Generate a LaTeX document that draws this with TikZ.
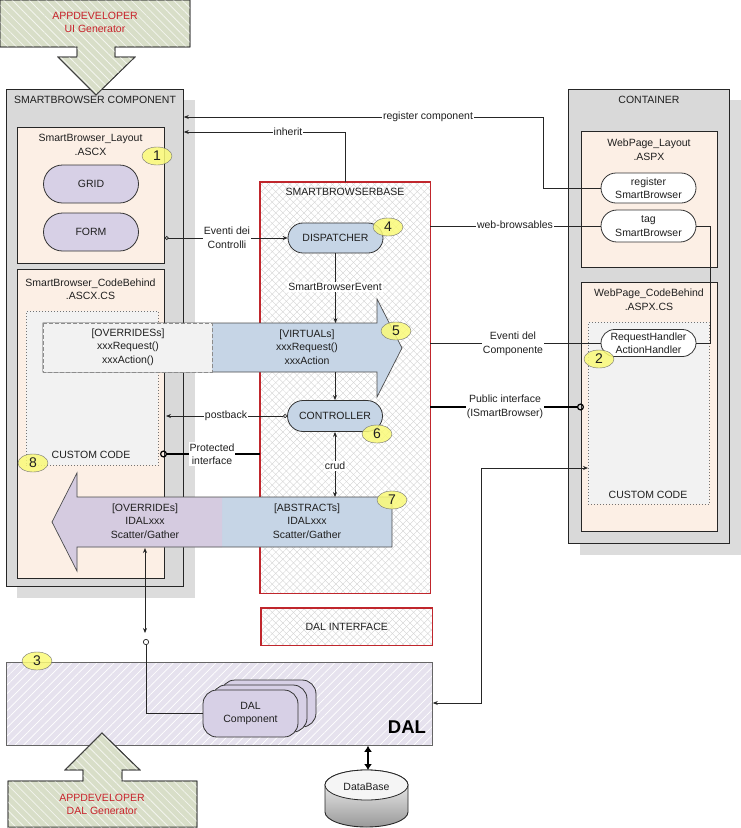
\documentclass[tikz,border=0pt]{standalone}
\usepackage{fontspec}
\setmainfont{Liberation Sans}
\usetikzlibrary{shapes.misc,shapes.geometric,arrows.meta,patterns.meta}
\definecolor{genfill}{HTML}{D8DEC8}
\definecolor{compgray}{HTML}{D9D9D9}
\definecolor{shadowc}{HTML}{DCDCDC}
\definecolor{peach}{HTML}{FCEFE5}
\definecolor{lav}{HTML}{D7D0E6}
\definecolor{lavtwo}{HTML}{D5CBE0}
\definecolor{bluef}{HTML}{C6D5E6}
\definecolor{cgray}{HTML}{F2F2F2}
\definecolor{badgey}{HTML}{FAFA78}
\definecolor{sbred}{HTML}{C0262C}
\definecolor{dalfill}{HTML}{E6E2EE}
\definecolor{txtc}{HTML}{1F1F1F}
\definecolor{gentext}{HTML}{C8232B}
\begin{document}
\begin{tikzpicture}[x=1pt,y=-1pt,
  every node/.style={font=\fontsize{10.5}{13.5}\selectfont, text=txtc},
  box/.style={draw=black!85, line width=0.8pt, inner sep=0, anchor=north west},
  pill/.style={rounded rectangle, draw=black!80, line width=0.8pt, minimum width=95, inner sep=0, align=center},
  lbl/.style={fill=white, inner sep=1pt, align=center},
  ttl/.style={align=center, inner sep=0},
  badge/.style={ellipse, draw=black!55, fill=badgey, fill opacity=0.85, text opacity=1, minimum width=30, minimum height=18, inner sep=0, font=\fontsize{14}{14}\selectfont},
  conn/.style={draw=black!85, line width=0.7pt},
  thickconn/.style={draw=black, line width=1.6pt},
  arr/.style={-{Stealth[length=5pt,width=4pt]}},
  dalc/.style={rectangle, rounded corners=14pt, draw=black!80, fill=lav, line width=0.8pt, minimum width=95, minimum height=47, inner sep=0, align=center},
  gentxt/.style={align=center, inner sep=0, text=gentext}
]
\useasboundingbox (0,0) rectangle (741,828);

% shadows
\fill[shadowc] (17,100) rectangle (195,598);
\fill[shadowc] (580,100) rectangle (741,555);

% ===== SMARTBROWSER COMPONENT =====
\node[box, fill=compgray, minimum width=177, minimum height=497] (comp) at (6,89) {};
\node[ttl] (compT) at (95,100) {SMARTBROWSER COMPONENT};
\node[box, fill=peach, minimum width=147, minimum height=136] (lay) at (17,127) {};
\node[ttl] (layT) at (90.5,145) {SmartBrowser\_Layout\\.ASCX};
\node[pill, fill=lav, minimum height=38] (grid) at (91,184) {GRID};
\node[pill, fill=lav, minimum height=38] (form) at (91,232) {FORM};
\node[box, fill=peach, minimum width=147, minimum height=309] (cb) at (17,269) {};
\node[ttl] (cbT) at (90.5,289) {SmartBrowser\_CodeBehind\\.ASCX.CS};
\node[box, draw=black!55, dash pattern=on 0.8pt off 2.2pt, fill=cgray, minimum width=132, minimum height=154] (cc) at (26,311) {};
\node[ttl] (ccT) at (91,455) {CUSTOM CODE};

% ===== CONTAINER =====
\node[box, fill=compgray, minimum width=161, minimum height=454] (cont) at (568,89) {};
\node[ttl] (contT) at (649,100) {CONTAINER};
\node[box, fill=peach, minimum width=136, minimum height=136] (wpl) at (581,131) {};
\node[ttl] (wplT) at (649,149.5) {WebPage\_Layout\\.ASPX};
\node[pill, fill=white, minimum height=30] (reg) at (648.5,188) {register\\SmartBrowser};
\node[pill, fill=white, minimum height=32] (tag) at (648.5,226) {tag\\SmartBrowser};
\node[box, fill=peach, minimum width=136, minimum height=249] (wpcb) at (581,282) {};
\node[ttl] (wpcbT) at (649,299.5) {WebPage\_CodeBehind\\.ASPX.CS};
\node[box, draw=black!55, dash pattern=on 0.8pt off 2.2pt, fill=cgray, minimum width=121, minimum height=182] (ccr) at (588,322) {};
\node[ttl] (ccrT) at (648,495) {CUSTOM CODE};
\node[pill, fill=white, minimum height=27] (req) at (648.5,343) {RequestHandler\\ActionHandler};

% ===== SMARTBROWSERBASE =====
\node[inner sep=0, anchor=north west, minimum width=170, minimum height=411] (sbb) at (260,182) {};
\fill[white] (sbb.north west) rectangle (sbb.south east);
\fill[pattern={Lines[angle=45,distance=5pt,line width=0.35pt]}, pattern color=black!18] (sbb.north west) rectangle (sbb.south east);
\fill[pattern={Lines[angle=-45,distance=5pt,line width=0.35pt]}, pattern color=black!18] (sbb.north west) rectangle (sbb.south east);
\draw[sbred, line width=1.3pt] (sbb.north west) rectangle (sbb.south east);
\node[ttl] (sbbT) at (345,192) {SMARTBROWSERBASE};

\node[inner sep=0, anchor=north west, minimum width=171, minimum height=37] (dali) at (261,608) {};
\fill[white] (dali.north west) rectangle (dali.south east);
\fill[pattern={Lines[angle=45,distance=5pt,line width=0.35pt]}, pattern color=black!18] (dali.north west) rectangle (dali.south east);
\fill[pattern={Lines[angle=-45,distance=5pt,line width=0.35pt]}, pattern color=black!18] (dali.north west) rectangle (dali.south east);
\draw[sbred, line width=1.3pt] (dali.north west) rectangle (dali.south east);
\node[ttl] (daliT) at (dali.center) {DAL INTERFACE};

\node[pill, fill=bluef, minimum height=30] (disp) at (335.5,238) {DISPATCHER};

% ===== big right arrow (5) =====
\filldraw[fill=bluef, draw=black!70, line width=0.7pt] (43,323) -- (377,323) -- (377,299) -- (402,348) -- (377,397) -- (377,372) -- (43,372) -- cycle;
\filldraw[fill=cgray, draw=black!45, line width=0.9pt, dash pattern=on 4pt off 2pt] (43,323) rectangle (212,372);
\node[ttl] (ovT) at (128,347) {[OVERRIDESs]\\xxxRequest()\\xxxAction()};
\node[ttl] (viT) at (307,347) {[VIRTUALs]\\xxxRequest()\\xxxAction};

% ===== big left arrow (7) =====
\fill[bluef] (392,497) -- (77,497) -- (77,473) -- (52,522) -- (77,571) -- (77,547) -- (392,547) -- cycle;
\fill[lavtwo] (222,497) -- (77,497) -- (77,473) -- (52,522) -- (77,571) -- (77,547) -- (222,547) -- cycle;
\draw[black!70, line width=0.7pt] (392,497) -- (77,497) -- (77,473) -- (52,522) -- (77,571) -- (77,547) -- (392,547) -- cycle;
\node[ttl] (ovdT) at (145,521) {[OVERRIDEs]\\IDALxxx\\Scatter/Gather};
\node[ttl] (abT) at (307,521) {[ABSTRACTs]\\IDALxxx\\Scatter/Gather};

\node[pill, fill=bluef, minimum height=31] (ctrl) at (335,416) {CONTROLLER};

% ===== DAL =====
\node[box, draw=black!60, fill=dalfill, minimum width=426, minimum height=83] (dal) at (6,662) {};
\fill[pattern={Lines[angle=45,distance=6pt,line width=0.7pt]}, pattern color=white] (dal.north west) rectangle (dal.south east);
\draw[black!60, line width=0.8pt] (dal.north west) rectangle (dal.south east);
\node[ttl, font=\fontsize{18.5}{20}\selectfont\bfseries, text=black] (dalT) at (407,727) {DAL};
\node[dalc] (dalcc) at (268.5,703.5) {};
\node[dalc] (dalcb) at (259.5,708.5) {};
\node[dalc] (dalca) at (250.5,713.5) {DAL\\Component};

% ===== DataBase =====
\node[inner sep=0, minimum width=83, minimum height=58, anchor=north] (db) at (366.5,770) {};
\shade[top color=white, bottom color=black!40, draw=black!85, line width=0.9pt] (325,785) -- (325,812) arc[start angle=180, end angle=0, x radius=41.5, y radius=15] -- (408,785) arc[start angle=0, end angle=-180, x radius=41.5, y radius=15] -- cycle;
\filldraw[fill=black!4, draw=black!85, line width=0.8pt] (366.5,785) ellipse [x radius=41.5, y radius=15];
\node[ttl] (dbT) at (366.5,787) {DataBase};

% ===== generators =====
\filldraw[fill=genfill, draw=black!75, line width=0.8pt] (0,0) -- (190,0) -- (190,47) -- (115,47) -- (115,57) -- (135,57) -- (96,95) -- (58,57) -- (77,57) -- (77,47) -- (0,47) -- cycle;
\fill[pattern={Lines[angle=-45,distance=6pt,line width=0.8pt]}, pattern color=white!70!genfill] (0,0) -- (190,0) -- (190,47) -- (115,47) -- (115,57) -- (135,57) -- (96,95) -- (58,57) -- (77,57) -- (77,47) -- (0,47) -- cycle;
\draw[black!75, line width=0.8pt] (0,0) -- (190,0) -- (190,47) -- (115,47) -- (115,57) -- (135,57) -- (96,95) -- (58,57) -- (77,57) -- (77,47) -- (0,47) -- cycle;
\node[gentxt] (genUI) at (95,22.5) {APPDEVELOPER\\UI Generator};

\filldraw[fill=genfill, draw=black!75, line width=0.8pt] (8,828) -- (8,781) -- (83,781) -- (83,770) -- (65,770) -- (102,733) -- (140,770) -- (122,770) -- (122,781) -- (197,781) -- (197,828) -- cycle;
\fill[pattern={Lines[angle=-45,distance=6pt,line width=0.8pt]}, pattern color=white!70!genfill] (8,828) -- (8,781) -- (83,781) -- (83,770) -- (65,770) -- (102,733) -- (140,770) -- (122,770) -- (122,781) -- (197,781) -- (197,828) -- cycle;
\draw[black!75, line width=0.8pt] (8,827) -- (8,781) -- (83,781) -- (83,770) -- (65,770) -- (102,733) -- (140,770) -- (122,770) -- (122,781) -- (197,781) -- (197,827) -- cycle;
\node[gentxt] (genDAL) at (102,804.5) {APPDEVELOPER\\DAL Generator};

% ===== coordinates =====
\coordinate (regbend) at (543,117);
\coordinate (inhT) at (184,132);
\coordinate (tagbend) at (710,226);
\coordinate (ar5top) at (335.5,323);
\coordinate (ar5bot) at (335,372);
\coordinate (ar7top) at (335,497);
\coordinate (pbend) at (166,416);
\coordinate (protc) at (160,454);
\coordinate (pubc) at (584,407);
\coordinate (dalbend) at (481,703);
\coordinate (ccin) at (588,468);
\coordinate (la1) at (145,548);
\coordinate (la2) at (145,633);
\coordinate (dcirc) at (146,639);
\coordinate (dbtop) at (368,770);

% ===== connectors =====
\draw[conn, {Circle[open,length=4pt,width=4pt]}-{Stealth[length=5pt,width=4pt]}] (lay.east |- disp.west) -- (disp.west);
\node[lbl] (lEv) at (227,237.5) {Eventi dei\\Controlli};
\draw[conn, arr] (sbb.north) |- (comp.east |- inhT);
\node[lbl] (lInh) at (288,132) {inherit};
\draw[conn, arr] (reg.west) -| (regbend) -- (comp.east |- regbend);
\node[lbl] (lReg) at (428,117) {register component};
\draw[conn] (sbb.east |- tag.west) -- (tag.west);
\node[lbl] (lWeb) at (515,225) {web-browsables};
\draw[conn] (tag.east) -- (tagbend) |- (req.east);
\draw[conn] (sbb.east |- req.west) -- (req.west);
\node[lbl] (lEvC) at (513,344) {Eventi del\\Componente};
\draw[thickconn, -{Circle[open,length=7pt,width=7pt,line width=1.2pt]}] (sbb.east |- pubc) -- (pubc);
\node[lbl] (lPub) at (505,407) {Public interface\\(ISmartBrowser)};
\draw[thickconn, -{Circle[open,length=7pt,width=7pt,line width=1.2pt]}] (sbb.west |- protc) -- (protc);
\node[lbl] (lProt) at (212,454) {Protected\\interface};
\draw[conn, arr] (disp.south) -- (ar5top);
\node[lbl] (lSbe) at (335,287) {SmartBrowserEvent};
\draw[conn, arr] (ar5bot) -- (ctrl.north);
\draw[conn, {Circle[open,length=4pt,width=4pt]}-{Stealth[length=5pt,width=4pt]}] (ctrl.west) -- (pbend);
\node[lbl] (lPb) at (226,416) {postback};
\draw[conn, {Stealth[length=5pt,width=4pt]}-{Stealth[length=5pt,width=4pt]}] (ctrl.south) -- (ar7top);
\node[lbl] (lCrud) at (335,466) {crud};
\draw[conn, {Stealth[length=5pt,width=4pt]}-{Stealth[length=5pt,width=4pt]}] (la1) -- (la2);
\draw[conn, {Circle[open,length=6pt,width=6pt]}-] (dcirc) |- (dalca.west);
\draw[conn, {Stealth[length=5pt,width=4pt]}-{Stealth[length=5pt,width=4pt]}] (dal.east |- dalbend) -- (dalbend) |- (ccin);
\draw[line width=2.2pt, {Latex[length=6pt,width=8pt]}-{Latex[length=6pt,width=8pt]}] (dal.south -| dbtop) -- (dbtop);

% ===== badges on top =====
\node[badge] (b1) at (157,156) {1};
\node[badge] (b5) at (396,331) {5};
\node[badge] (b6) at (377,434) {6};
\node[badge] (b7) at (392,500) {7};
\node[badge] (b8) at (33,463) {8};
\node[badge] (b3) at (37,661) {3};
\node[badge] (b4) at (388,227) {4};
\node[badge] (b2) at (599,359) {2};
\end{tikzpicture}
\end{document}
